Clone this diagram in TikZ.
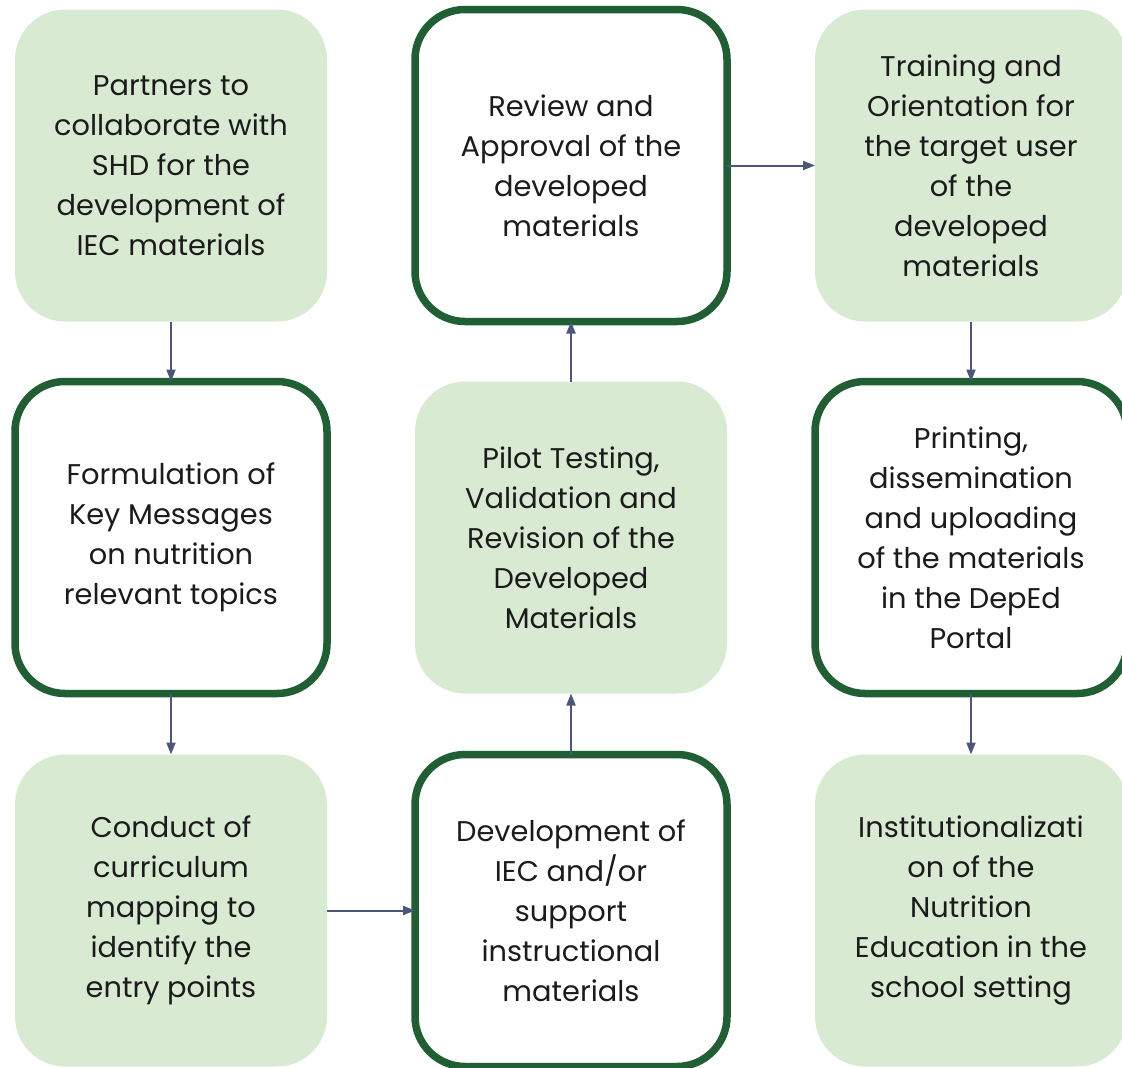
\documentclass[tikz,border=0pt]{standalone}
\usepackage{fontspec}
\setmainfont[FakeStretch=1.012]{Poppins}
\usetikzlibrary{arrows.meta}
\definecolor{boxfill}{HTML}{D9EAD3}
\definecolor{darkgreen}{HTML}{205E33}
\definecolor{arrowcol}{HTML}{4A5779}
\definecolor{textcol}{HTML}{1B1B1B}
\begin{document}
\begin{tikzpicture}[x=1pt,y=-1pt,
  base/.style={rectangle, minimum width=312pt, minimum height=312pt,
    rounded corners=50pt, inner sep=0pt, outer sep=0pt, align=center,
    text=textcol, font=\fontsize{28.5}{40}\selectfont},
  softbox/.style={base, fill=boxfill},
  hardbox/.style={base, draw=darkgreen, line width=7.5pt, fill=white},
  conn/.style={draw=arrowcol, line width=2pt, -{Triangle[length=12pt,width=9pt]}}
]
\useasboundingbox (0,0) rectangle (1122,1068);
\clip (0,0) rectangle (1122,1068);

\node[softbox] (b1) at (171,165.5) {Partners to\\collaborate with\\SHD for the\\development of\\IEC materials};
\node[hardbox] (b2) at (171,537.5) {Formulation of\\Key Messages\\on nutrition\\relevant topics};
\node[softbox] (b3) at (171,910.5) {Conduct of\\curriculum\\mapping to\\identify the\\entry points};

\node[hardbox] (b4) at (571,165.5) {Review and\\Approval of the\\developed\\materials};
\node[softbox] (b5) at (571,537.5) {Pilot Testing,\\Validation and\\Revision of the\\Developed\\Materials};
\node[hardbox] (b6) at (571,910.5) {Development of\\IEC and/or\\support\\instructional\\materials};

\node[softbox] (b7) at (971,165.5) {Training and\\Orientation for\\the target user\\of the\\developed\\materials};
\node[hardbox] (b8) at (971,537.5) {Printing,\\dissemination\\and uploading\\of the materials\\in the DepEd\\Portal};
\node[softbox] (b9) at (971,910.5) {Institutionalizati\\on of the\\Nutrition\\Education in the\\school setting};

\draw[conn] (b1.south) -- (b2.north);
\draw[conn] (b2.south) -- (b3.north);
\draw[conn] (b3.east) -- (b6.west);
\draw[conn] (b6.north) -- (b5.south);
\draw[conn] (b5.north) -- (b4.south);
\draw[conn] (b4.east) -- (b7.west);
\draw[conn] (b7.south) -- (b8.north);
\draw[conn] (b8.south) -- (b9.north);
\end{tikzpicture}
\end{document}
